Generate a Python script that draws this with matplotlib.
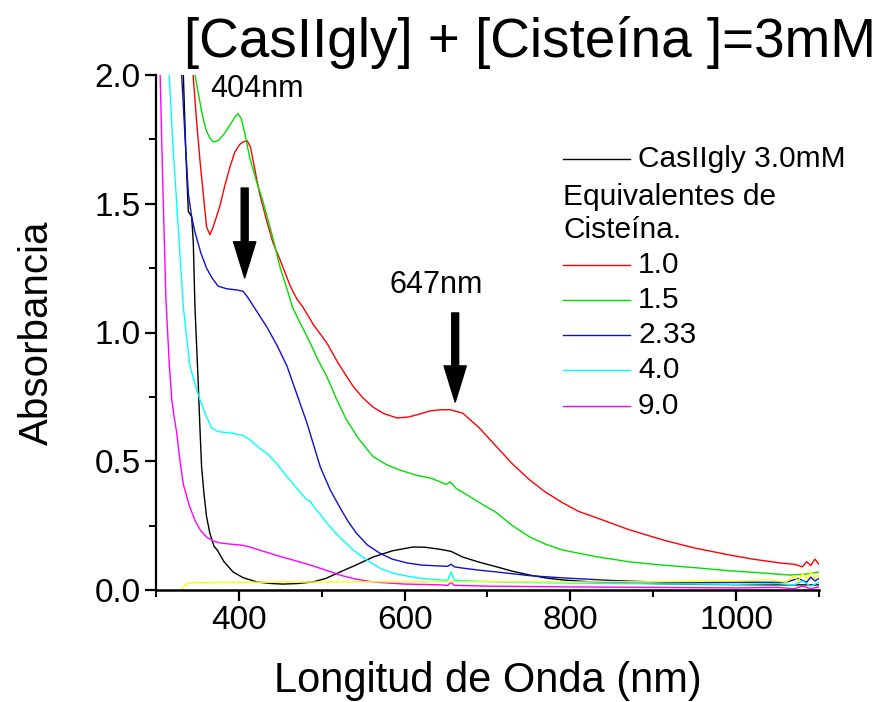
import numpy as np
import matplotlib
matplotlib.use('Agg')
import matplotlib.pyplot as plt
from matplotlib.ticker import MultipleLocator
from matplotlib.lines import Line2D

plt.rcParams['font.family'] = ['Liberation Sans', 'DejaVu Sans']

# CasIIgly 3.0mM (black)
wl_ref = [331, 333, 336, 339, 341, 343, 345, 347, 349, 351, 353, 355, 358, 361, 365, 370, 374, 382,
          393, 405, 422, 440, 453, 470, 489, 505, 522, 540, 562, 585, 610, 625, 643, 656, 670, 690,
          711, 730, 751, 770, 791, 830, 872, 950, 1050, 1100]
ab_ref = [2.1, 2.0, 1.7, 1.47, 1.46, 1.45, 1.35, 1.10, 0.95, 0.80, 0.63, 0.48, 0.37, 0.285, 0.22, 0.17,
          0.155, 0.11, 0.07, 0.048, 0.031, 0.025, 0.023, 0.025, 0.031, 0.045, 0.07, 0.095, 0.128, 0.152,
          0.167, 0.166, 0.158, 0.15, 0.128, 0.108, 0.09, 0.073, 0.058, 0.047, 0.039, 0.03, 0.027, 0.022,
          0.02, 0.02]

# 1.0 equivalents (red)
wl_10 = [343, 345, 349, 353, 357, 361, 365, 369, 373, 377, 383, 389, 395, 401, 405, 410, 414, 417, 425,
         433, 441, 450, 462, 470, 477, 490, 506, 520, 538, 550, 562, 575, 591, 605, 620, 630, 643, 655,
         670, 690, 711, 730, 751, 770, 791, 810, 832, 870, 912, 950, 992, 1020, 1053, 1070, 1080, 1085,
         1090, 1095, 1100]
ab_10 = [2.1, 1.99, 1.82, 1.67, 1.54, 1.41, 1.38, 1.41, 1.45, 1.49, 1.57, 1.64, 1.70, 1.73, 1.74, 1.745,
         1.72, 1.67, 1.54, 1.44, 1.35, 1.28, 1.18, 1.13, 1.10, 1.03, 0.96, 0.88, 0.79, 0.745, 0.71, 0.685,
         0.668, 0.672, 0.685, 0.695, 0.70, 0.70, 0.687, 0.63, 0.556, 0.49, 0.427, 0.38, 0.338, 0.305,
         0.28, 0.235, 0.194, 0.163, 0.136, 0.12, 0.105, 0.10, 0.09, 0.11, 0.095, 0.12, 0.10]

# 1.5 equivalents (green)
wl_15 = [345, 347, 351, 355, 360, 365, 369, 375, 382, 390, 396, 399, 403, 408, 413, 421, 429, 440, 450,
         458, 465, 475, 486, 496, 506, 518, 530, 545, 562, 578, 594, 615, 631, 643, 650, 655, 658, 662,
         670, 690, 711, 730, 751, 770, 791, 830, 872, 910, 953, 990, 1032, 1065, 1085, 1100]
ab_15 = [2.1, 2.0, 1.93, 1.86, 1.79, 1.755, 1.74, 1.745, 1.77, 1.81, 1.84, 1.85, 1.83, 1.76, 1.68, 1.59,
         1.51, 1.38, 1.25, 1.17, 1.095, 1.03, 0.96, 0.89, 0.83, 0.74, 0.66, 0.585, 0.518, 0.487, 0.466,
         0.445, 0.435, 0.42, 0.41, 0.42, 0.41, 0.395, 0.38, 0.34, 0.30, 0.25, 0.206, 0.178, 0.155, 0.13,
         0.109, 0.097, 0.086, 0.075, 0.066, 0.058, 0.062, 0.07]

# 2.33 equivalents (blue)
wl_233 = [329, 331, 335, 339, 343, 347, 354, 361, 368, 375, 385, 398, 405, 410, 419, 434, 446, 458, 470,
          482, 490, 498, 510, 522, 532, 542, 555, 570, 585, 603, 620, 643, 652, 656, 660, 670, 690, 711,
          750, 791, 850, 912, 970, 1032, 1060, 1075, 1085, 1090, 1095, 1100]
ab_233 = [2.1, 2.0, 1.76, 1.54, 1.45, 1.39, 1.31, 1.25, 1.21, 1.18, 1.17, 1.165, 1.16, 1.14, 1.095, 1.02,
          0.95, 0.87, 0.76, 0.65, 0.565, 0.48, 0.39, 0.32, 0.265, 0.22, 0.175, 0.143, 0.12, 0.105, 0.097,
          0.093, 0.092, 0.10, 0.09, 0.085, 0.077, 0.07, 0.056, 0.047, 0.037, 0.03, 0.03, 0.03, 0.03, 0.045,
          0.03, 0.05, 0.035, 0.045]

# 4.0 equivalents (cyan)
wl_40 = [314, 316, 320, 325, 329, 333, 337, 341, 347, 353, 360, 367, 375, 389, 397, 405, 415, 425, 434,
         446, 458, 470, 482, 486, 490, 498, 506, 520, 538, 555, 570, 585, 603, 620, 643, 652, 656, 660,
         680, 720, 800, 900, 1000, 1050, 1070, 1080, 1090, 1100]
ab_40 = [2.1, 2.0, 1.75, 1.5, 1.3, 1.10, 0.98, 0.87, 0.80, 0.74, 0.68, 0.63, 0.615, 0.61, 0.605, 0.60,
         0.58, 0.55, 0.53, 0.49, 0.44, 0.395, 0.35, 0.345, 0.325, 0.295, 0.26, 0.21, 0.155, 0.115, 0.085,
         0.066, 0.054, 0.045, 0.039, 0.038, 0.07, 0.038, 0.035, 0.03, 0.027, 0.024, 0.022, 0.025, 0.02,
         0.035, 0.015, 0.03]

# 9.0 equivalents (magenta)
wl_90 = [303, 305, 308, 312, 316, 319, 322, 325, 329, 333, 340, 347, 354, 361, 369, 377, 390, 401, 410,
         417, 430, 450, 470, 486, 505, 522, 540, 562, 600, 643, 652, 656, 660, 700, 800, 900, 1000, 1050,
         1070, 1080, 1090, 1100]
ab_90 = [2.1, 2.0, 1.6, 1.126, 0.88, 0.74, 0.67, 0.61, 0.50, 0.41, 0.33, 0.27, 0.23, 0.206, 0.19, 0.183,
         0.178, 0.175, 0.17, 0.163, 0.15, 0.13, 0.112, 0.097, 0.077, 0.058, 0.043, 0.031, 0.023, 0.02,
         0.018, 0.03, 0.018, 0.015, 0.012, 0.01, 0.008, 0.01, 0.005, 0.015, 0.005, 0.012]

# unlabeled baseline (yellow)
wl_base = [330, 333, 336, 340, 345, 360, 400, 500, 600, 700, 800, 900, 1000, 1040, 1060, 1070, 1075,
           1080, 1085, 1090, 1095, 1100]
ab_base = [0.0, 0.012, 0.022, 0.026, 0.028, 0.029, 0.03, 0.031, 0.032, 0.032, 0.031, 0.032, 0.035, 0.04,
           0.03, 0.055, 0.035, 0.065, 0.04, 0.07, 0.045, 0.06]

eq_labels = ['1.0', '1.5', '2.33', '4.0', '9.0']
eq_colors = ['#ff0000', '#00dd00', '#1010cc', '#00ffff', '#ff00ff']
eq_wl = [wl_10, wl_15, wl_233, wl_40, wl_90]
eq_ab = [ab_10, ab_15, ab_233, ab_40, ab_90]

fig = plt.figure(figsize=(8.79, 7.02), dpi=100)
ax = fig.add_axes([156/879, 1-590/702, 663/879, 515/702])

ax.plot(wl_ref, ab_ref, color='black', lw=1.0)
for w, a, c in zip(eq_wl, eq_ab, eq_colors):
    ax.plot(w, a, color=c, lw=1.0)
ax.plot(wl_base, ab_base, color='#ffff00', lw=1.0)

ax.set_xlim(300, 1100)
ax.set_ylim(0, 2.0)
ax.xaxis.set_major_locator(MultipleLocator(200))
ax.xaxis.set_minor_locator(MultipleLocator(100))
ax.yaxis.set_major_locator(MultipleLocator(0.5))
ax.yaxis.set_minor_locator(MultipleLocator(0.25))
ax.yaxis.set_major_formatter(plt.FormatStrFormatter('%.1f'))
ax.spines['top'].set_visible(False)
ax.spines['right'].set_visible(False)
ax.spines['left'].set_linewidth(1.6)
ax.spines['bottom'].set_linewidth(1.8)
ax.tick_params(which='major', direction='out', length=8, width=1.6, labelsize=24, pad=3)
ax.tick_params(which='minor', direction='out', length=5, width=1.4)

ax.set_xlabel('Longitud de Onda (nm)', fontsize=30, labelpad=18)
ax.set_ylabel('Absorbancia', fontsize=29, labelpad=28)
fig.text(0.603, 1-57/702, '[CasIIgly] + [Cisteína ]=3mM', fontsize=39.5, ha='center', va='baseline')

# peak annotations and arrows
ax.text(365, 1.915, '404nm', fontsize=22, ha='left', va='baseline')
ax.text(582, 1.153, '647nm', fontsize=22, ha='left', va='baseline')
arrow_kw = dict(facecolor='black', edgecolor='black', width=5, headwidth=16, headlength=26, shrink=0)
ax.annotate('', xy=(407, 1.212), xytext=(407, 1.561), arrowprops=arrow_kw)
ax.annotate('', xy=(661, 0.730), xytext=(661, 1.076), arrowprops=arrow_kw)

# legend drawn by hand
lx0, lx1, tx = 0.614, 0.715, 0.727
ax.add_line(Line2D([lx0, lx1], [0.837, 0.837], color='black', lw=1.0, transform=ax.transAxes))
ax.text(tx, 0.837, 'CasIIgly 3.0mM', fontsize=21.5, va='center', transform=ax.transAxes)
ax.text(lx0, 0.763, 'Equivalentes de', fontsize=21.5, va='center', transform=ax.transAxes)
ax.text(lx0, 0.699, 'Cisteína.', fontsize=21.5, va='center', transform=ax.transAxes)
leg_y = [0.631, 0.563, 0.495, 0.427, 0.357]
for y, c, lab in zip(leg_y, eq_colors, eq_labels):
    ax.add_line(Line2D([lx0, lx1], [y, y], color=c, lw=1.0, transform=ax.transAxes))
    ax.text(tx, y, lab, fontsize=21.5, va='center', transform=ax.transAxes)

fig.savefig('out.png', dpi=100)
